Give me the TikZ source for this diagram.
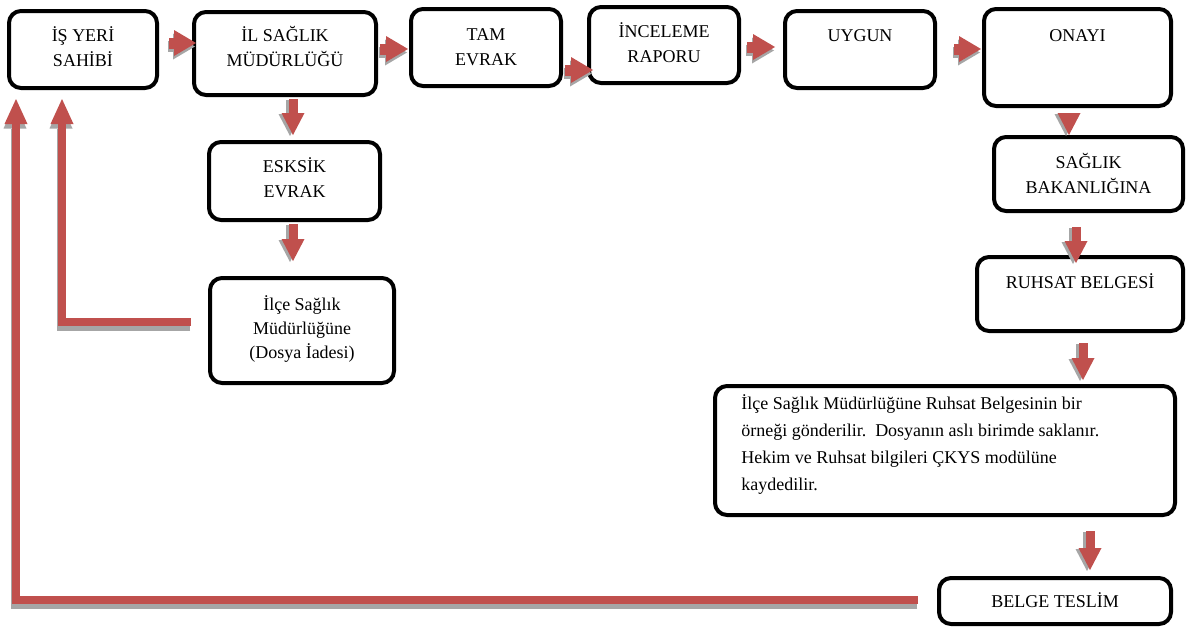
\documentclass[tikz,border=0pt]{standalone}
\usepackage{fontspec}
\setmainfont{Liberation Serif}
\usetikzlibrary{arrows.meta,calc}
\newdimen\pxu \pxu=0.75pt
\definecolor{arrowred}{HTML}{C0504D}
\definecolor{shadowgray}{HTML}{A6A6A6}
\tikzset{
  flowbox/.style={draw=black, line width=4\pxu, rounded corners=12\pxu, fill=white, inner sep=0pt},
  boxtext/.style={inner sep=0pt, anchor=base, font=\fontsize{13.5}{18.75}\selectfont},
  hflow/.style={line width=8.25pt, -{Triangle[length=16.5pt, width=19.5pt, line width=0pt]}},
  vflow/.style={line width=6.75pt, -{Triangle[length=16.5pt, width=17.25pt, line width=0pt]}},
  backflow/.style={line width=6pt, line join=miter, -{Triangle[length=18.75pt, width=17.25pt, line width=0pt]}},
}
% arrow with a grey drop shadow: style, shadow shift, path
\newcommand\flowarrow[3]{%
  \draw[#1, draw=shadowgray, transform canvas={shift={#2}}] #3;
  \draw[#1, draw=arrowred] #3;}
\begin{document}
\begin{tikzpicture}[x=0.75pt, y=-0.75pt]
\useasboundingbox[fill=white] (0,0) rectangle (1188,628);

% boxes
\node[flowbox, minimum width=148\pxu, minimum height=77\pxu] (b1) at (83,49.5) {};
\node[flowbox, minimum width=182\pxu, minimum height=83\pxu] (b2) at (285,53.5) {};
\node[flowbox, minimum width=150\pxu, minimum height=77\pxu] (b3) at (486,47.5) {};
\node[flowbox, minimum width=150\pxu, minimum height=76\pxu] (b4) at (664,45) {};
\node[flowbox, minimum width=150\pxu, minimum height=77\pxu] (b5) at (860,49.5) {};
\node[flowbox, minimum width=187\pxu, minimum height=97\pxu] (b6) at (1077.5,57.5) {};
\node[flowbox, minimum width=189\pxu, minimum height=74\pxu] (b7) at (1088.5,174) {};
\node[flowbox, minimum width=206\pxu, minimum height=74\pxu] (b8) at (1080,294) {};
\node[flowbox, minimum width=171\pxu, minimum height=78\pxu] (b9) at (294.5,181) {};
\node[flowbox, minimum width=184\pxu, minimum height=105\pxu] (b10) at (302,330.5) {};
\node[flowbox, minimum width=460\pxu, minimum height=129\pxu] (b11) at (945,450.5) {};
\node[flowbox, minimum width=232\pxu, minimum height=46\pxu] (b12) at (1055,601) {};

% box texts
\node[boxtext] (t1) at ($(b1.north)+(0,32)$) {\begin{tabular}[t]{@{}c@{}}İŞ YERİ\\SAHİBİ\end{tabular}};
\node[boxtext] (t2) at ($(b2.north)+(0,31)$) {\begin{tabular}[t]{@{}c@{}}İL SAĞLIK\\MÜDÜRLÜĞÜ\end{tabular}};
\node[boxtext] (t3) at ($(b3.north)+(0,33)$) {\begin{tabular}[t]{@{}c@{}}TAM\\EVRAK\end{tabular}};
\node[boxtext] (t4) at ($(b4.north)+(0,32)$) {\begin{tabular}[t]{@{}c@{}}İNCELEME\\RAPORU\end{tabular}};
\node[boxtext] (t5) at ($(b5.north)+(0,32)$) {UYGUN};
\node[boxtext] (t6) at ($(b6.north)+(0,34)$) {ONAYI};
\node[boxtext] (t7) at ($(b7.north)+(0,33)$) {\begin{tabular}[t]{@{}c@{}}SAĞLIK\\BAKANLIĞINA\end{tabular}};
\node[boxtext] (t8) at ($(b8.north)+(0,33)$) {RUHSAT BELGESİ};
\node[boxtext] (t9) at ($(b9.north)+(0,32)$) {\begin{tabular}[t]{@{}c@{}}ESKSİK\\EVRAK\end{tabular}};
\node[boxtext, font=\fontsize{13.5}{18}\selectfont] (t10) at ($(b10.north)+(0,34)$) {\begin{tabular}[t]{@{}c@{}}İlçe Sağlık\\Müdürlüğüne\\(Dosya İadesi)\end{tabular}};
\node[boxtext, anchor=base west, font=\fontsize{13.5}{20.25}\selectfont] (t11) at ($(b11.north west)+(28,25)$) {\begin{tabular}[t]{@{}l@{}}İlçe Sağlık Müdürlüğüne Ruhsat Belgesinin bir\\örneği gönderilir.\hspace{0.5em}Dosyanın aslı birimde saklanır.\\Hekim ve Ruhsat bilgileri ÇKYS modülüne\\kaydedilir.\end{tabular}};
\node[boxtext] (t12) at ($(b12.north)+(0,31)$) {BELGE TESLİM};

% main flow, left to right
\flowarrow{hflow}{(-1,3.5)}{($(b1.east)+(10,-6.5)$) -- ($(b2.west)+(4,-10.5)$)}
\flowarrow{hflow}{(-1,3.5)}{($(b2.east)+(2,-4.5)$) -- ($(b3.west)+(-1,1.5)$)}
\flowarrow{hflow}{(-1,3.5)}{($(b3.east)+(2,22.5)$) -- ($(b4.west)+(6,25)$)}
\flowarrow{hflow}{(-1,3.5)}{($(b4.east)+(6,2)$) -- ($(b5.west)+(-8,-2.5)$)}
\flowarrow{hflow}{(-1,3.5)}{($(b5.east)+(17,-0.5)$) -- ($(b6.west)+(-1,-8.5)$)}

% downward steps
\flowarrow{vflow}{(-3,1)}{($(b2.south)+(8,2)$) -- ($(b9.north)+(-1.5,-5)$)}
\flowarrow{vflow}{(-3,1)}{($(b9.south)+(-1.5,2)$) -- ($(b10.north)+(-9,-15)$)}
\flowarrow{vflow}{(-3,1)}{($(b6.south)+(-8.5,6)$) -- ($(b7.north)+(-19.5,0)$)}
\flowarrow{vflow}{(-3,1)}{($(b7.south)+(-12.5,14)$) -- ($(b8.north)+(-4,8)$)}
\flowarrow{vflow}{(-3,1)}{($(b8.south)+(3,10)$) -- ($(b11.north)+(138,-4)$)}
\flowarrow{vflow}{(-3,1)}{($(b11.south)+(145,14)$) -- ($(b12.north)+(35,-6)$)}

% return paths back to the applicant
\flowarrow{backflow}{(-1,4.5)}{($(b10.west)+(-17,-8.5)$) -| ($(b1.south west)+(55,9)$)}
\flowarrow{backflow}{(-1,4.5)}{($(b12.west)+(-19,-1)$) -| ($(b1.south west)+(9,9)$)}
\end{tikzpicture}
\end{document}
